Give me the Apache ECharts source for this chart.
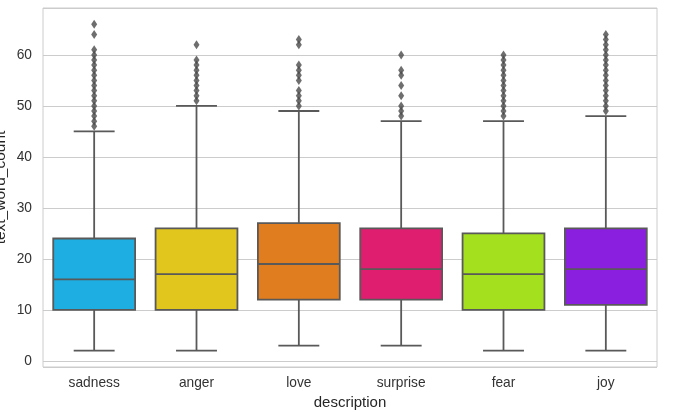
<!doctype html>
<html>
<head>
<meta charset="utf-8">
<title>text_word_count by description</title>
<script src="https://cdn.jsdelivr.net/npm/echarts@6/dist/echarts.min.js"></script>
<style>
html,body{margin:0;padding:0;background:#fff;}
</style>
</head>
<body>
<div id="chart" style="width:687px;height:412px;"></div>
<script type="text/javascript">
// categories and colours of each box
var categories = ['sadness', 'anger', 'love', 'surprise', 'fear', 'joy'];
var boxColors = ['#1eaee2', '#e1c61e', '#e07e1f', '#e01e70', '#a4e01e', '#8a1fe0'];

// five numbers per box: low whisker, q1, median, q3, high whisker
var lowWhisker = [2, 2, 3, 3, 2, 2];
var q1 = [10, 10, 12, 12, 10, 11];
var median = [16, 17, 19, 18, 17, 18];
var q3 = [24, 26, 27, 26, 25, 26];
var highWhisker = [45, 50, 49, 47, 47, 48];

// outliers
var outSadness = [46, 47, 48, 49, 50, 51, 52, 53, 54, 55, 56, 57, 58, 59, 60, 61, 64, 66];
var outAnger = [51, 52, 53, 54, 55, 56, 57, 58, 59, 62];
var outLove = [50, 51, 52, 53, 55, 56, 57, 58, 62, 63];
var outSurprise = [48, 49, 50, 52, 54, 56, 57, 60];
var outFear = [48, 49, 50, 51, 52, 53, 54, 55, 56, 57, 58, 59, 60];
var outJoy = [49, 50, 51, 52, 53, 54, 55, 56, 57, 58, 59, 60, 61, 62, 63, 64];

var yTicks = [0, 10, 20, 30, 40, 50, 60];

var outliers = [outSadness, outAnger, outLove, outSurprise, outFear, outJoy];

var boxData = [];
for (var i = 0; i < categories.length; i++) {
	boxData.push([i, lowWhisker[i], q1[i], median[i], q3[i], highWhisker[i]]);
}
var flierData = [];
for (var i = 0; i < outliers.length; i++) {
	for (var j = 0; j < outliers[i].length; j++) {
		flierData.push([categories[i], outliers[i][j]]);
	}
}

var lineColor = '#595959';
var font = '"Liberation Sans", Arial, sans-serif';

function renderBox(params, api) {
	var idx = api.value(0);
	var band = api.size([1, 0])[0];
	var half = band * 0.4;
	var cap = band * 0.2;
	var pLow = api.coord([idx, api.value(1)]);
	var pQ1 = api.coord([idx, api.value(2)]);
	var pMed = api.coord([idx, api.value(3)]);
	var pQ3 = api.coord([idx, api.value(4)]);
	var pHigh = api.coord([idx, api.value(5)]);
	var x = pQ1[0];
	var ls = {stroke: lineColor, lineWidth: 1.8};
	return {
		type: 'group',
		children: [
			{type: 'line', shape: {x1: x, y1: pQ1[1], x2: x, y2: pLow[1]}, style: ls},
			{type: 'line', shape: {x1: x, y1: pQ3[1], x2: x, y2: pHigh[1]}, style: ls},
			{type: 'line', shape: {x1: x - cap, y1: pLow[1], x2: x + cap, y2: pLow[1]}, style: ls},
			{type: 'line', shape: {x1: x - cap, y1: pHigh[1], x2: x + cap, y2: pHigh[1]}, style: ls},
			{type: 'rect', shape: {x: x - half, y: pQ3[1], width: half * 2, height: pQ1[1] - pQ3[1]},
				style: {fill: boxColors[idx], stroke: lineColor, lineWidth: 1.8}},
			{type: 'line', shape: {x1: x - half, y1: pMed[1], x2: x + half, y2: pMed[1]}, style: ls}
		]
	};
}

var mychart = echarts.init(document.getElementById('chart'));
mychart.setOption({
	animation: false,
	grid: {
		left: 43, right: 30, top: 8, bottom: 45,
		containLabel: false,
		outerBoundsMode: 'none',
		show: true, borderColor: '#cccccc', borderWidth: 1
	},
	xAxis: {
		type: 'category',
		data: categories,
		name: 'description',
		nameLocation: 'middle',
		nameGap: 26,
		nameTextStyle: {fontFamily: font, fontSize: 15, color: '#262626'},
		axisLine: {show: false},
		axisTick: {show: false},
		axisLabel: {fontFamily: font, fontSize: 13.75, color: '#333', margin: 9},
		splitLine: {show: false}
	},
	yAxis: {
		type: 'value',
		min: -1.2,
		max: 69.2,
		splitNumber: 7,
		name: 'text_word_count',
		nameLocation: 'middle',
		nameGap: 34,
		nameMoveOverlap: false,
		nameTextStyle: {fontFamily: font, fontSize: 15.5, color: '#262626'},
		axisLine: {show: false},
		axisTick: {show: false},
		axisLabel: {
			fontFamily: font, fontSize: 13.75, color: '#333', margin: 11,
			showMinLabel: false, showMaxLabel: false,
			formatter: function (v) { return yTicks.indexOf(v) >= 0 ? String(v) : ''; }
		},
		splitLine: {lineStyle: {color: '#cccccc', width: 1}}
	},
	series: [{
		type: 'custom',
		renderItem: renderBox,
		encode: {x: 0, y: [1, 2, 3, 4, 5]},
		data: boxData,
		z: 2
	}, {
		type: 'scatter',
		symbol: 'diamond',
		symbolSize: [6, 9],
		itemStyle: {color: '#4a4a4a'},
		data: flierData,
		z: 3
	}]
});
</script>
</body>
</html>
